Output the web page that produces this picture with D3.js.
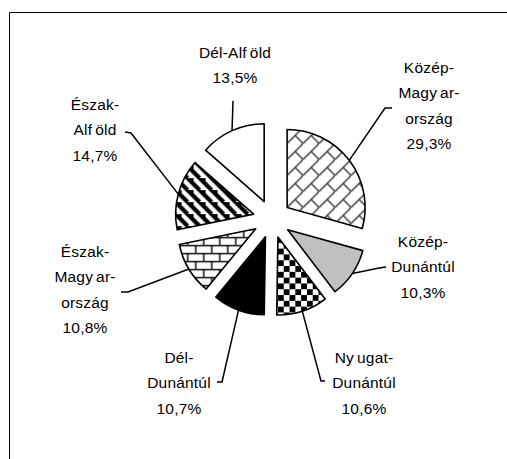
<!DOCTYPE html>
<html><head><meta charset="utf-8">
<script src="https://cdn.jsdelivr.net/npm/d3@7"></script>
<style>
html,body{margin:0;padding:0;background:#fff;overflow:hidden;}
svg{display:block;}
text{font-family:"Liberation Sans",Arial,sans-serif;font-size:15.5px;fill:#000;letter-spacing:0.2px;}
</style></head>
<body>
<svg id="chart" width="507" height="459"></svg>
<script>
// ---- data ----
const categories = ["Közép-Magyarország","Közép-Dunántúl","Nyugat-Dunántúl","Dél-Dunántúl","Észak-Magyarország","Észak-Alföld","Dél-Alföld"];
const values = [29.3, 10.3, 10.6, 10.7, 10.8, 14.7, 13.5];
const labelLines = [["Közép-","Magyar-","ország"],["Közép-","Dunántúl"],["Nyugat-","Dunántúl"],["Dél-","Dunántúl"],["Észak-","Magyar-","ország"],["Észak-","Alföld"],["Dél-Alföld"]];

// ---- layout ----
const cx = 272, cy = 219, R = 78, explode = 19;
const lineH = 25.3;
const labelPos = [[429,73],[423,247],[364,363],[179,363],[85,257],[95,110],[235,58]];
const leaderStart = [[[392,108],[385,108]],[[386,267],[379,268]],[[325,381],[321,381]],[[217,382],[222,382]],[[121,292],[128,292]],[[125,132],[131,133]],[[233,101]]];
const fills = ["url(#pDiagBrick)","#c0c0c0","url(#pChecker)","#000","url(#pHBrick)","url(#pStripes)","#fff"];

const svg = d3.select("#chart");
svg.append("rect").attr("width",507).attr("height",459).attr("fill","#fff");
svg.append("path").attr("d","M9.5,470V12.5H520")
  .attr("fill","none").attr("stroke","#000").attr("stroke-width",1);

const defs = svg.append("defs");
// checkerboard
const pc = defs.append("pattern").attr("id","pChecker").attr("patternUnits","userSpaceOnUse")
  .attr("width",11.6).attr("height",11.6);
pc.append("rect").attr("width",11.6).attr("height",11.6).attr("fill","#fff");
pc.append("rect").attr("width",5.8).attr("height",5.8).attr("fill","#000");
pc.append("rect").attr("x",5.8).attr("y",5.8).attr("width",5.8).attr("height",5.8).attr("fill","#000");
// horizontal brick
const ph = defs.append("pattern").attr("id","pHBrick").attr("patternUnits","userSpaceOnUse")
  .attr("width",16).attr("height",16);
ph.append("rect").attr("width",16).attr("height",16).attr("fill","#fff");
ph.append("path").attr("d","M0,0.75H16M0,8.75H16M4,0.75V8.75M12,8.75V16.75")
  .attr("stroke","#111").attr("stroke-width",1.5).attr("fill","none");
// diagonal brick
const pd = defs.append("pattern").attr("id","pDiagBrick").attr("patternUnits","userSpaceOnUse")
  .attr("width",16).attr("height",16);
pd.append("rect").attr("width",16).attr("height",16).attr("fill","#fff");
pd.append("path").attr("d","M-2,18L18,-2M8,8L18,18M-2,14L2,18")
  .attr("stroke","#333").attr("stroke-width",1.4).attr("fill","none");
// wide downward diagonal stripes
const ps = defs.append("pattern").attr("id","pStripes").attr("patternUnits","userSpaceOnUse")
  .attr("width",12).attr("height",12);
ps.append("rect").attr("width",12).attr("height",12).attr("fill","#fff");
ps.append("path").attr("d","M-6,0L6,12M0,-6L18,12M6,-6L18,6")
  .attr("stroke","#000").attr("stroke-width",4.2).attr("fill","none");

const pie = d3.pie().sort(null).value(d => d).startAngle(0).endAngle(2*Math.PI);
const arcs = pie(values);
const arcGen = d3.arc().innerRadius(0).outerRadius(R);

const g = svg.append("g").attr("transform",`translate(${cx},${cy})`);
g.selectAll("path.slice").data(arcs).join("path").attr("class","slice")
  .attr("transform", d => { const m=(d.startAngle+d.endAngle)/2; return `translate(${Math.sin(m)*explode},${-Math.cos(m)*explode})`; })
  .attr("d", arcGen)
  .attr("fill", (d,i) => fills[i])
  .attr("stroke","#000").attr("stroke-width",1.6).attr("stroke-linejoin","round");

// leader lines
arcs.forEach((d,i) => {
  const m = (d.startAngle+d.endAngle)/2;
  const ex = cx + Math.sin(m)*(explode+R), ey = cy - Math.cos(m)*(explode+R);
  const pts = leaderStart[i].concat([[ex,ey]]);
  svg.append("path").attr("d", d3.line()(pts)).attr("fill","none")
    .attr("stroke","#000").attr("stroke-width",1.5);
});

// labels
const fmt = v => v.toFixed(1).replace(".",",") + "%";
arcs.forEach((d,i) => {
  const lines = labelLines[i].concat([fmt(values[i])]);
  const t = svg.append("text").attr("text-anchor","middle");
  lines.forEach((ln,j) => {
    // original rendering shows a visible gap after "y" and "f"
    const parts = ln.split(/(?<=[yf])/);
    parts.forEach((p,k) => {
      const ts = t.append("tspan").text(p);
      if (k===0) ts.attr("x",labelPos[i][0]).attr("y",labelPos[i][1]+j*lineH);
      else ts.attr("dx",3);
    });
  });
});
</script>
</body></html>
